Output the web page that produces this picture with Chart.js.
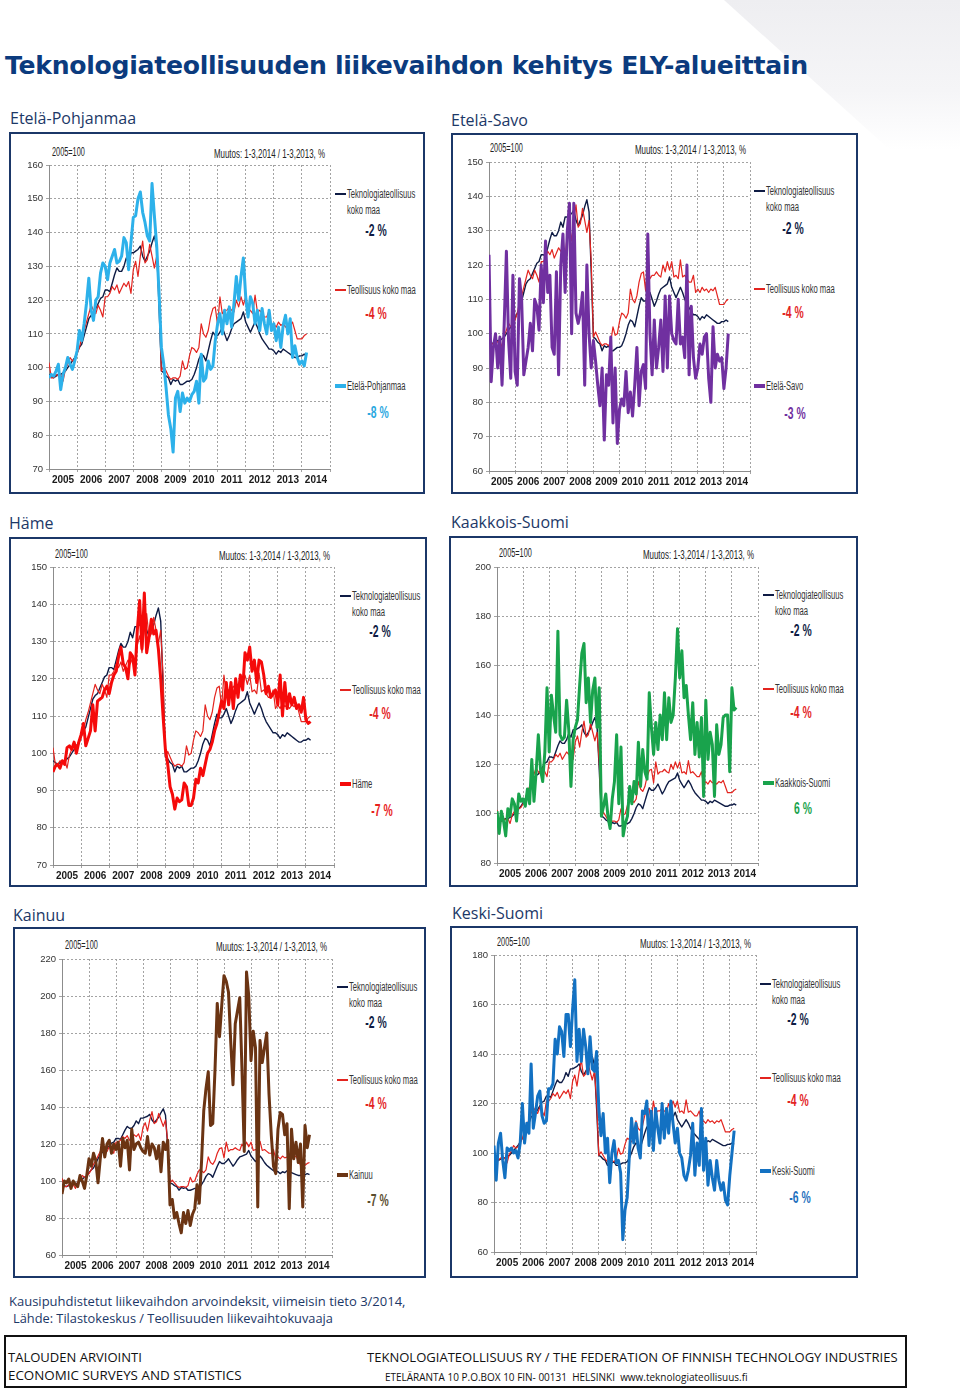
<!DOCTYPE html>
<html lang="fi">
<head>
<meta charset="UTF-8">
<title>Teknologiateollisuuden liikevaihdon kehitys ELY-alueittain</title>
<script src="https://cdn.jsdelivr.net/npm/chart.js"></script>
<style>
  body { margin: 0; width: 960px; height: 1390px; position: relative; overflow: hidden; background: #fff; font-family: "Open Sans", sans-serif; }
  .deco { position: absolute; left: 0; top: 0; width: 960px; height: 150px;
          background: linear-gradient(180deg, #eeeef1 0%, #f5f5f7 60%, #ffffff 100%);
          clip-path: polygon(724px 0, 960px 0, 960px 150px, 890px 150px); }
  .t { position: absolute; white-space: nowrap; line-height: 1; }
  .box { position: absolute; border: 2px solid #1b3768; box-sizing: border-box; background: #fff; }
  .sw { position: absolute; width: 11px; }
</style>
</head>
<body>
<div class="deco"></div>

<script>
// monthly indices 2005=100, Jan 2005 .. Mar 2014
const years = ['2005', '2006', '2007', '2008', '2009', '2010', '2011', '2012', '2013', '2014'];

const techIndustry = [
  98, 97.5, 97, 97.5, 98, 98, 98.5, 99, 100, 101, 102, 103,
  104.5, 106, 107, 109.5, 112, 114.5, 115.5, 116, 117.5, 119, 120.5, 121,
  123, 123, 122.5, 125, 127.5, 129.5, 128.5, 128.5, 130, 132.5, 131, 134,
  134, 134.5, 135, 136, 133, 131.5, 133, 134.5, 137, 139, 135.5, 118,
  99, 98.5, 97.5, 97, 95, 96.5, 96, 96.5, 95, 95, 95.5, 96,
  96, 96.5, 98, 100, 102.5, 104, 103.5, 102, 105, 108, 110.5, 109.5,
  109.5, 110.5, 112, 110, 108, 109.5, 111.5, 113, 113.5, 114, 114.5, 116.5,
  113.5, 112, 110.5, 112, 113.5, 112, 110, 108.5, 107.5, 106.5, 105.5, 105.5,
  105, 104, 105, 104.5, 105.5, 105, 104.5, 104, 103.5, 103, 103, 103.5,
  103.5, 104, 103.5
];

const manufacturing = [
  101.5, 97, 97, 98, 97.5, 98, 96, 99.5, 101, 103, 102, 102.5,
  104, 106, 109, 111, 113.5, 116, 118.5, 117, 116, 118.5, 117, 115,
  121, 121, 122, 124, 123, 124.5, 122, 123.5, 125, 124, 125.5, 122,
  129, 131.5, 127, 133, 137.5, 131, 132, 136.5, 133, 129.5, 133, 121,
  99, 100.5, 99, 97.5, 96.5, 97, 97, 96.5, 97.5, 102, 99.5, 100,
  103.5, 106, 105.5, 104.5, 106, 113, 110, 109, 111, 115, 117.5, 118,
  112.5, 121, 116, 117, 117, 118, 117, 116.5, 120, 118, 121, 118.5,
  121, 116.5, 117, 116, 121.5, 116.5, 117, 116, 115, 115, 117, 112,
  113, 112, 113.5, 112.5, 113, 112, 113, 112.5, 113.5, 111, 108.5, 108.5,
  108.5, 109.5, 110
];

const etelaPohjanmaa = [
  97, 98, 97.5, 99, 101, 93.5, 98, 100, 103, 101, 99.5, 102,
  105, 111, 108, 113, 119, 126.5, 117, 114, 120, 121, 128, 131,
  130, 126, 131, 133, 135, 131, 131.5, 133, 138.5, 137, 129, 137,
  144.5, 145, 150, 152, 146, 143, 139, 137.5, 154.5, 145, 136, 122,
  106, 101, 94, 86, 82, 75, 91, 93, 87, 92.5, 89.5, 91,
  90, 92, 93, 96, 89.5, 104, 96, 97, 102, 99.5, 100.5, 108,
  113, 116, 110, 117, 113, 118, 112, 119, 127, 120, 127, 132.5,
  121, 115, 121, 119, 113, 117, 111, 117.5, 113, 110, 117, 111,
  113, 108, 112, 106, 112.5, 115.5, 110, 114.5, 103, 106.5, 103, 101,
  102, 100.5, 104.5
];

const etelaSavo = [
  123, 86, 96, 100, 90, 99, 85, 103, 124, 98, 87, 117,
  89, 85, 116, 110, 88, 92, 96, 103, 95, 110, 108, 101,
  120, 109, 127, 112, 117, 96, 94, 118, 88, 120, 129, 112,
  130, 138, 100, 138, 106, 103, 106, 112, 85, 120, 100, 90,
  98, 92, 85, 79, 90, 69, 88, 85, 99, 74, 90, 68,
  78, 81, 79, 89, 77, 83, 76, 85, 96, 79, 89, 91,
  84, 129, 100, 88, 104, 90, 96, 104, 89, 111, 90, 111,
  100, 98, 97, 110, 97, 99, 93, 120, 88, 108, 93, 87,
  90, 97, 94, 99, 100, 87, 80, 102, 90, 94, 92, 93,
  84, 90, 100
];

const hame = [
  95, 96.5, 97, 96, 98, 97, 101.5, 102, 101, 103, 100, 103,
  105, 108, 102, 104, 106, 113, 106, 114, 114.5, 115, 117, 118,
  116, 119, 121, 122, 126, 128.5, 124, 123, 120, 127, 126, 121,
  133, 141, 128, 143, 127, 131, 136, 132, 133, 128, 120, 110,
  101, 97, 91, 89, 85, 88, 87, 87.5, 92, 91, 86, 86,
  88, 93, 92, 96, 94, 97, 100, 101, 103, 106, 108, 111,
  114, 112, 119, 113, 119, 112, 120, 115, 121, 117, 127, 125,
  128.5, 122, 125, 119, 125, 124.5, 121, 116, 118, 115, 116, 117,
  113, 121, 110, 119, 112, 116, 113, 115, 112, 113, 111, 115,
  109, 108, 108.5
];

const kaakkoisSuomi = [
  101, 92, 101, 97, 91, 102, 99, 106, 104, 97, 108, 105,
  106, 103, 110, 104, 122, 105, 117, 132, 118, 113, 125, 151,
  125, 148, 140, 133, 174, 132, 130, 131, 146, 134, 111, 130,
  135, 138, 152, 165, 169, 145, 155, 137, 150, 155, 135, 151,
  99, 103, 108, 99, 94, 106, 113, 132, 104, 127, 91, 96,
  99, 111, 104, 113, 108, 129, 111, 126, 117, 114, 149, 135,
  124, 137, 126, 140, 130, 149, 130, 147, 137, 140, 155, 175,
  155, 166, 147, 152, 140, 130, 145, 124, 137, 123, 139, 107,
  146, 122, 133, 128, 107, 136, 124, 128, 139, 140, 140, 117,
  151, 142, 143
];

const kainuu = [
  93, 100, 99, 101, 96, 100, 98, 97, 103, 100, 96, 103,
  112, 108, 115, 111, 99, 112, 123, 113, 120, 122, 115, 120,
  117, 121, 108, 123, 118, 122, 106, 128, 117, 120, 121, 118,
  116, 115, 124, 114, 120, 118, 112, 119, 105, 121, 117, 122,
  87, 90, 80, 83, 77, 72, 83, 77, 84, 76, 82, 85,
  98, 88, 110, 138, 150, 159, 130, 131, 160, 196, 178, 195,
  211, 208, 202, 175, 152, 185, 192, 199, 160, 116, 213, 200,
  165, 181, 172, 86, 176, 164, 172, 180, 147, 125, 108, 104,
  128, 137, 136, 125, 131, 85, 128, 112, 121, 110, 120, 86,
  130, 118, 125
];

const keskiSuomi = [
  103, 89, 104, 108, 97, 90, 102, 101, 102, 100, 101, 98,
  104, 120, 104, 112, 108, 136, 110, 116, 123, 125, 115, 112,
  113, 126, 126, 128, 146, 140, 151, 149, 139, 156, 156, 143,
  158, 170, 137, 150, 137, 150, 143, 132, 147, 134, 133, 141,
  118, 107, 116, 100, 106, 88, 100, 105, 96, 97, 92, 65,
  77, 82, 99, 114, 104, 112, 102, 98, 117, 116, 121, 103,
  117, 101, 118, 110, 104, 120, 106, 118, 108, 121, 112, 104,
  110, 100, 98, 91, 89, 93, 99, 112, 91, 104, 95, 118,
  93, 106, 87, 97, 90, 85, 97, 89, 85, 88, 81, 79,
  91, 100, 109
];

const regionNames = ['Etelä-Pohjanmaa', 'Etelä-Savo', 'Häme', 'Kaakkois-Suomi', 'Kainuu', 'Keski-Suomi'];
const regionSeries = [etelaPohjanmaa, etelaSavo, hame, kaakkoisSuomi, kainuu, keskiSuomi];
const regionChanges = ['-8 %', '-3 %', '-7 %', '6 %', '-7 %', '-6 %'];
const techChange = '-2 %';
const manufChange = '-4 %';
// y axis [min, max, step]
const yRanges = [[70, 160, 10], [60, 150, 10], [70, 150, 10], [80, 200, 20], [60, 220, 20], [60, 180, 20]];

// page layout (absolute px)
const SANS = '"Liberation Sans", Arial, sans-serif';
const NARROW_X = 0.61;   // horizontal squeeze to fake the narrow chart font
const NAVY = '#0e1b44';
const RED = '#e3241f';

const panels = [
  { title: [10, 118], box: [9, 132, 425, 494], plot: [49, 165, 330, 469], base: [52, 152], muutos: [325, 153],
    sx: 335, tx: 347, rows: [194, 290, 386], pct: [230, 313, 412], pctX: 376, color: '#2db1ea', pctColor: '#2aa8df' },
  { title: [451, 120], box: [451, 133, 858, 494], plot: [489, 162, 750, 471], base: [490, 148], muutos: [746, 149],
    sx: 754, tx: 766, rows: [191, 289, 386], pct: [228, 312, 413], pctX: 793, color: '#7030a0', pctColor: '#7030a0' },
  { title: [9, 523], box: [9, 537, 427, 887], plot: [53, 567, 334, 865], base: [55, 554], muutos: [330, 555],
    sx: 340, tx: 352, rows: [596, 690, 784], pct: [631, 713, 810], pctX: 380, color: '#f50a0a', pctColor: '#e8211c' },
  { title: [451, 522], box: [449, 536, 858, 887], plot: [497, 567, 758, 863], base: [499, 553], muutos: [754, 554],
    sx: 763, tx: 775, rows: [595, 689, 783], pct: [630, 712, 808], pctX: 801, color: '#19a34c', pctColor: '#19a34c' },
  { title: [13, 915], box: [13, 927, 426, 1278], plot: [62, 959, 332, 1255], base: [65, 945], muutos: [327, 946],
    sx: 337, tx: 349, rows: [987, 1080, 1175], pct: [1022, 1103, 1200], pctX: 376, color: '#6b3413', pctColor: '#5a4d2e' },
  { title: [452, 913], box: [450, 926, 858, 1278], plot: [494, 955, 756, 1252], base: [497, 942], muutos: [751, 943],
    sx: 760, tx: 772, rows: [984, 1078, 1171], pct: [1019, 1100, 1197], pctX: 798, color: '#1371c2', pctColor: '#1d6fbd' }
];

function addText(txt, x, y, css, anchor, sx) {
  const el = document.createElement('div');
  el.className = 't';
  el.textContent = txt;
  el.style.left = x + 'px';
  el.style.top = y + 'px';
  el.style.cssText += css;
  const squeeze = sx ? ` scaleX(${sx})` : '';
  if (anchor === 'center') {
    el.style.transformOrigin = '50% 50%';
    el.style.transform = 'translate(-50%,-50%)' + squeeze;
  } else if (anchor === 'right') {
    el.style.transformOrigin = '100% 50%';
    el.style.transform = 'translate(-100%,-50%)' + squeeze;
  } else {
    el.style.transformOrigin = '0 50%';
    el.style.transform = 'translateY(-50%)' + squeeze;
  }
  document.body.appendChild(el);
  return el;
}

function fitWidth(el, target) {
  const w = el.getBoundingClientRect().width;
  const fs = parseFloat(getComputedStyle(el).fontSize);
  el.style.fontSize = (fs * target / w) + 'px';
}

function addSwatch(x, y, color, h) {
  const el = document.createElement('div');
  el.className = 'sw';
  el.style.left = x + 'px';
  el.style.top = (y - h / 2) + 'px';
  el.style.height = h + 'px';
  el.style.background = color;
  document.body.appendChild(el);
}

const pts = arr => arr.map((v, m) => ({ x: m, y: v }));

function makePanel(i) {
  const P = panels[i];
  const box = document.createElement('div');
  box.className = 'box';
  box.style.left = P.box[0] + 'px';
  box.style.top = P.box[1] + 'px';
  box.style.width = (P.box[2] - P.box[0]) + 'px';
  box.style.height = (P.box[3] - P.box[1]) + 'px';
  document.body.appendChild(box);

  addText(regionNames[i], P.title[0], P.title[1], 'font-size:16px;color:#1c3867;font-family:"Open Sans",sans-serif;');
  addText('2005=100', P.base[0], P.base[1], `font-size:12px;color:#222;font-family:${SANS};`, 'left', NARROW_X);
  addText('Muutos: 1-3,2014 / 1-3,2013, %', P.muutos[0], P.muutos[1], `font-size:13px;color:#222;font-family:${SANS};`, 'right', NARROW_X);

  const lab = `font-size:12.5px;color:#333;font-family:${SANS};`;
  const pct = `font-size:17px;font-weight:bold;font-family:${SANS};`;
  addSwatch(P.sx, P.rows[0], NAVY, 1.6);
  addText('Teknologiateollisuus', P.tx, P.rows[0], lab, 'left', NARROW_X);
  addText('koko maa', P.tx, P.rows[0] + 16, lab, 'left', NARROW_X);
  addText(techChange, P.pctX, P.pct[0], pct + 'color:' + NAVY + ';', 'center', NARROW_X);
  addSwatch(P.sx, P.rows[1], RED, 1.6);
  addText('Teollisuus koko maa', P.tx, P.rows[1], lab, 'left', NARROW_X);
  addText(manufChange, P.pctX, P.pct[1], pct + 'color:' + RED + ';', 'center', NARROW_X);
  addSwatch(P.sx, P.rows[2], P.color, 4);
  addText(regionNames[i], P.tx, P.rows[2], lab, 'left', NARROW_X);
  addText(regionChanges[i], P.pctX + 2, P.pct[2], pct + 'color:' + P.pctColor + ';', 'center', NARROW_X);

  const [yMin, yMax, yStep] = yRanges[i];
  const [pl, pt, pr, pb] = P.plot;
  const AXW = 40, PADT = 10, PADR = 10, AXH = 22;
  const w = pr - pl + AXW + PADR;
  const h = pb - pt + PADT + AXH;
  const canvas = document.createElement('canvas');
  canvas.width = w;
  canvas.height = h;
  canvas.style.cssText = `position:absolute;left:${pl - AXW}px;top:${pt - PADT}px;width:${w}px;height:${h}px;`;
  document.body.appendChild(canvas);

  new Chart(canvas, {
    type: 'line',
    data: {
      datasets: [
        { label: regionNames[i], data: pts(regionSeries[i]), borderColor: P.color, borderWidth: 3 },
        { label: 'Teollisuus koko maa', data: pts(manufacturing), borderColor: RED, borderWidth: 1.2 },
        { label: 'Teknologiateollisuus koko maa', data: pts(techIndustry), borderColor: NAVY, borderWidth: 1.4 }
      ]
    },
    options: {
      responsive: false,
      animation: false,
      devicePixelRatio: 1,
      layout: { padding: { top: PADT, right: PADR, left: 0, bottom: 0 } },
      elements: { point: { radius: 0 }, line: { tension: 0, borderJoinStyle: 'round' } },
      plugins: { legend: { display: false }, tooltip: { enabled: false } },
      scales: {
        x: {
          type: 'linear', min: 0, max: 120,
          afterFit: s => { s.height = AXH; },
          ticks: {
            stepSize: 6, maxTicksLimit: 30, autoSkip: false, maxRotation: 0, padding: 2,
            color: '#1a1a1a', font: { family: SANS, size: 10, weight: 'bold' },
            callback: v => (v % 12 === 6 ? years[(v - 6) / 12] : '')
          },
          grid: { color: c => (c.tick && c.tick.value % 12 === 0 ? '#a3a3a3' : 'rgba(0,0,0,0)'), tickLength: 3 },
          border: { display: true, color: '#8c8c8c', width: 1, dash: [2, 2] }
        },
        y: {
          min: yMin, max: yMax,
          afterFit: s => { s.width = AXW; },
          ticks: { stepSize: yStep, padding: 3, color: '#333', font: { family: SANS, size: 9.5 } },
          grid: { color: '#a3a3a3', tickLength: 3 },
          border: { display: true, color: '#8c8c8c', width: 1, dash: [2, 2] }
        }
      }
    }
  });
}

const title = addText('Teknologiateollisuuden liikevaihdon kehitys ELY-alueittain', 5, 66,
  'font-size:28px;font-weight:bold;color:#0b3b7e;font-family:"DejaVu Sans",sans-serif;letter-spacing:-0.3px;');
fitWidth(title, 805);

panels.forEach((p, i) => makePanel(i));

const note1 = addText('Kausipuhdistetut liikevaihdon arvoindeksit, viimeisin tieto 3/2014,', 9, 1302, 'font-size:13px;color:#1c3867;');
fitWidth(note1, 397);
const note2 = addText('Lähde: Tilastokeskus / Teollisuuden liikevaihtokuvaaja', 13, 1318, 'font-size:13px;color:#1c3867;');
fitWidth(note2, 320);

const foot = document.createElement('div');
foot.style.cssText = 'position:absolute;left:4px;top:1335px;width:903px;height:53px;border:2px solid #111;box-sizing:border-box;';
document.body.appendChild(foot);
const f1 = addText('TALOUDEN ARVIOINTI', 8, 1358, 'font-size:13px;color:#111;');
fitWidth(f1, 134);
const f2 = addText('ECONOMIC SURVEYS AND STATISTICS', 8, 1376, 'font-size:13px;color:#111;');
fitWidth(f2, 234);
const f3 = addText('TEKNOLOGIATEOLLISUUS RY / THE FEDERATION OF FINNISH TECHNOLOGY INDUSTRIES', 367, 1358, 'font-size:13px;color:#111;');
fitWidth(f3, 531);
const f4 = addText('ETELÄRANTA 10 P.O.BOX 10 FIN- 00131  HELSINKI  www.teknologiateollisuus.fi', 385, 1377, 'font-size:10px;color:#111;white-space:pre;');
fitWidth(f4, 363);
</script>
</body>
</html>
